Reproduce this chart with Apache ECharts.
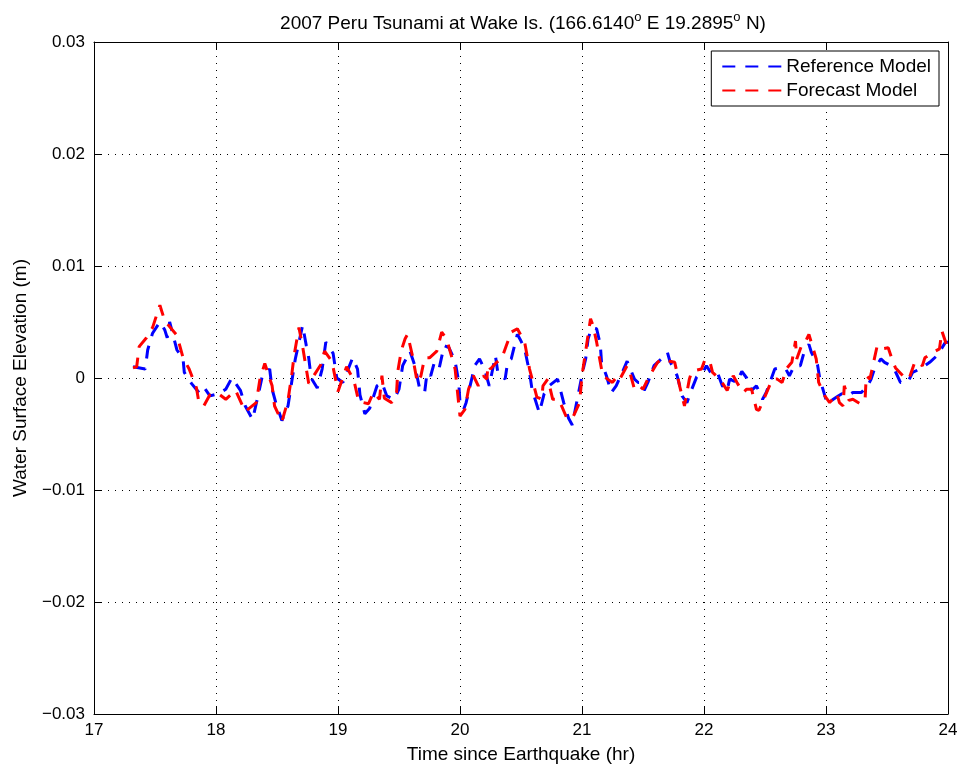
<!DOCTYPE html>
<html>
<head>
<meta charset="utf-8">
<script src="https://cdn.jsdelivr.net/npm/echarts@6/dist/echarts.min.js"></script>
<style>html,body{margin:0;padding:0;background:#fff}#c{width:962px;height:769px}</style>
</head>
<body>
<div id="c"></div>
<script>
const titleText = '2007 Peru Tsunami at Wake Is. (166.6140{sup|o} E 19.2895{sup|o} N)';
const xName = 'Time since Earthquake (hr)';
const yName = 'Water Surface Elevation (m)';
const seriesNames = ['Reference Model', 'Forecast Model'];
const xTicks = [17, 18, 19, 20, 21, 22, 23, 24];
const yTicks = [-0.03, -0.02, -0.01, 0, 0.01, 0.02, 0.03];

const refTime = [17.32,17.42,17.44,17.48,17.54,17.58,17.60,17.62,17.68,17.73,17.74,17.80,17.86,17.90,17.95,18.02,18.08,18.13,18.20,18.24,18.30,18.34,18.38,18.44,18.46,18.49,18.54,18.59,18.62,18.65,18.71,18.74,18.76,18.78,18.83,18.87,18.90,18.96,18.99,19.04,19.12,19.16,19.18,19.22,19.26,19.32,19.36,19.40,19.46,19.50,19.53,19.59,19.63,19.67,19.71,19.73,19.76,19.79,19.83,19.87,19.91,19.96,19.99,20.00,20.03,20.05,20.10,20.12,20.16,20.20,20.24,20.29,20.31,20.37,20.39,20.42,20.47,20.50,20.53,20.57,20.59,20.65,20.69,20.73,20.80,20.85,20.89,20.92,21.01,21.03,21.05,21.08,21.12,21.15,21.16,21.20,21.24,21.28,21.33,21.37,21.43,21.46,21.48,21.51,21.54,21.59,21.65,21.70,21.72,21.78,21.81,21.82,21.86,21.90,21.94,21.99,22.02,22.06,22.11,22.15,22.19,22.21,22.27,22.31,22.35,22.39,22.43,22.48,22.51,22.53,22.58,22.62,22.67,22.70,22.74,22.79,22.82,22.86,22.88,22.93,22.95,23.01,23.06,23.10,23.13,23.18,23.22,23.29,23.34,23.37,23.40,23.45,23.48,23.53,23.56,23.61,23.67,23.71,23.77,23.85,23.91,23.98,24.00];
const refElev = [0.0010,0.0008,0.0025,0.0040,0.0050,0.0043,0.0036,0.0050,0.0025,0.0017,0.0005,-0.0005,-0.0013,-0.0008,-0.0016,-0.0014,-0.0010,0.0000,-0.0011,-0.0025,-0.0037,-0.0018,0.0002,0.0008,-0.0010,-0.0022,-0.0038,-0.0025,-0.0004,0.0017,0.0047,0.0029,0.0018,0.0000,-0.0009,0.0008,0.0032,0.0022,0.0000,-0.0004,0.0018,0.0008,-0.0015,-0.0032,-0.0027,-0.0007,-0.0004,-0.0016,-0.0019,-0.0010,0.0011,0.0024,0.0011,-0.0010,-0.0013,0.0005,0.0002,0.0014,0.0009,0.0029,0.0027,0.0015,-0.0004,-0.0022,-0.0028,-0.0022,0.0001,0.0011,0.0017,0.0008,-0.0007,0.0020,0.0005,-0.0001,0.0014,0.0017,0.0039,0.0033,0.0026,0.0005,-0.0010,-0.0031,-0.0014,-0.0007,-0.0001,-0.0022,-0.0036,-0.0042,0.0008,0.0017,0.0035,0.0045,0.0044,0.0030,0.0014,0.0002,-0.0013,-0.0007,0.0005,0.0015,-0.0001,-0.0004,-0.0004,-0.0011,-0.0004,0.0011,0.0017,0.0023,0.0015,0.0002,-0.0011,-0.0016,-0.0022,-0.0010,0.0001,0.0005,0.0011,0.0004,0.0005,-0.0007,-0.0011,-0.0001,-0.0004,0.0006,0.0000,-0.0011,-0.0007,-0.0019,-0.0013,-0.0007,0.0008,0.0009,0.0008,0.0002,0.0011,0.0011,0.0023,0.0030,0.0023,0.0012,-0.0001,-0.0023,-0.0019,-0.0016,-0.0014,-0.0016,-0.0013,-0.0013,-0.0007,-0.0001,0.0009,0.0017,0.0014,0.0011,0.0008,-0.0004,-0.0004,0.0005,0.0008,0.0014,0.0020,0.0032,0.0032];

const fcTime = [17.32,17.35,17.37,17.43,17.48,17.54,17.58,17.68,17.73,17.78,17.84,17.86,17.90,17.95,18.02,18.08,18.16,18.24,18.33,18.36,18.40,18.46,18.48,18.54,18.59,18.62,18.64,18.68,18.71,18.76,18.86,18.89,18.95,19.00,19.07,19.13,19.17,19.25,19.29,19.34,19.36,19.38,19.44,19.48,19.49,19.52,19.55,19.57,19.61,19.65,19.68,19.71,19.75,19.81,19.85,19.89,19.96,19.98,20.00,20.04,20.07,20.11,20.15,20.19,20.22,20.23,20.25,20.30,20.34,20.38,20.42,20.47,20.53,20.57,20.63,20.67,20.68,20.72,20.76,20.81,20.88,20.93,20.98,21.00,21.03,21.07,21.09,21.12,21.17,21.21,21.25,21.29,21.31,21.37,21.39,21.43,21.47,21.50,21.54,21.57,21.62,21.66,21.72,21.76,21.77,21.80,21.84,21.88,21.90,21.98,22.01,22.05,22.07,22.13,22.19,22.24,22.27,22.32,22.35,22.39,22.43,22.45,22.56,22.60,22.64,22.68,22.72,22.75,22.76,22.80,22.82,22.86,22.92,22.94,22.99,23.03,23.09,23.11,23.14,23.15,23.19,23.22,23.28,23.32,23.33,23.36,23.38,23.42,23.46,23.51,23.55,23.57,23.63,23.68,23.73,23.79,23.81,23.88,23.93,23.95,23.99,24.00];
const fcElev = [0.0009,0.0010,0.0028,0.0036,0.0045,0.0065,0.0051,0.0038,0.0018,0.0008,-0.0009,-0.0022,-0.0025,-0.0015,-0.0014,-0.0019,-0.0011,-0.0030,-0.0022,-0.0001,0.0013,-0.0007,-0.0025,-0.0039,-0.0020,0.0002,0.0020,0.0045,0.0028,-0.0005,0.0012,0.0024,0.0015,-0.0012,0.0010,-0.0002,-0.0021,-0.0023,-0.0013,-0.0019,0.0002,-0.0018,-0.0022,-0.0013,0.0006,0.0025,0.0035,0.0039,0.0020,-0.0004,0.0002,0.0018,0.0018,0.0024,0.0041,0.0035,0.0008,-0.0013,-0.0034,-0.0028,-0.0010,0.0002,-0.0007,0.0002,-0.0001,0.0012,0.0008,0.0014,0.0017,0.0029,0.0041,0.0044,0.0032,0.0008,-0.0017,-0.0019,-0.0007,-0.0001,-0.0019,-0.0019,-0.0037,-0.0034,-0.0022,0.0002,0.0024,0.0053,0.0047,0.0032,0.0002,-0.0001,-0.0004,0.0002,-0.0001,0.0011,0.0006,-0.0010,-0.0007,-0.0010,-0.0001,0.0005,0.0014,0.0017,0.0015,0.0014,0.0009,-0.0007,-0.0025,-0.0001,0.0006,0.0008,0.0017,0.0014,0.0005,-0.0001,-0.0011,0.0002,-0.0004,-0.0013,-0.0010,-0.0010,-0.0028,-0.0029,-0.0001,-0.0001,-0.0004,0.0009,0.0014,0.0033,0.0017,0.0029,0.0030,0.0039,0.0017,-0.0004,-0.0016,-0.0022,-0.0014,-0.0022,-0.0025,-0.0007,-0.0020,-0.0019,-0.0023,-0.0020,0.0002,-0.0001,0.0009,0.0029,0.0026,0.0027,0.0014,0.0009,0.0002,-0.0001,0.0015,0.0011,0.0018,0.0023,0.0026,0.0042,0.0029,0.0030];

const FONT = "'Liberation Sans', Arial, Helvetica, sans-serif";
const pair = (t, v) => t.map((x, i) => [x, v[i]]);
const fmtY = v => {
  const r = Math.round(v * 100) / 100;
  if (r === 0) return '0';
  return r < 0 ? '\u2212' + Math.abs(r).toFixed(2) : r.toFixed(2);
};

const chart = echarts.init(document.getElementById('c'), null, {renderer: 'canvas'});
const axisCommon = {
  axisLine: {show: true, onZero: false, lineStyle: {color: '#000', width: 1}},
  axisTick: {show: true, inside: true, length: 8, lineStyle: {color: '#000'}},
};
chart.setOption({
  animation: false,
  backgroundColor: '#fff',
  textStyle: {fontFamily: FONT},
  title: {
    text: titleText,
    left: 518, top: 6, textAlign: 'center',
    textStyle: {
      fontFamily: FONT, fontSize: 19, fontWeight: 'normal', color: '#000',
      rich: {sup: {fontFamily: FONT, fontSize: 13, verticalAlign: 'top', padding: [0, 0, 12, 0], color: '#000'}}
    }
  },
  legend: {
    data: seriesNames.map(n => ({name: n, itemStyle: {opacity: 0}})),
    orient: 'vertical',
    right: 23, top: 51,
    padding: [6, 8, 6, 10],
    itemGap: 5,
    itemWidth: 59, itemHeight: 14,
    borderColor: '#000', borderWidth: 1,
    backgroundColor: '#fff',
    itemStyle: {opacity: 0},
    textStyle: {fontFamily: FONT, fontSize: 19, color: '#000', padding: [0, 0, 0, 0]}
  },
  grid: {left: 94, right: 14, top: 42, bottom: 54, containLabel: false},
  xAxis: [
    Object.assign({
      type: 'value', min: xTicks[0], max: xTicks[xTicks.length - 1], interval: 1,
      position: 'bottom',
      name: xName, nameLocation: 'middle', nameGap: 31,
      nameTextStyle: {fontFamily: FONT, fontSize: 19, color: '#000'},
      axisLabel: {fontFamily: FONT, fontSize: 17, color: '#000', margin: 8},
      splitLine: {show: true, lineStyle: {color: '#000', type: [1, 6], width: 1}}
    }, axisCommon),
    Object.assign({
      type: 'value', min: xTicks[0], max: xTicks[xTicks.length - 1], interval: 1,
      position: 'top', axisLabel: {show: false}, splitLine: {show: false}
    }, axisCommon)
  ],
  yAxis: [
    Object.assign({
      type: 'value', min: yTicks[0], max: yTicks[yTicks.length - 1], interval: 0.01,
      position: 'left',
      name: yName, nameLocation: 'middle', nameGap: 64, nameRotate: 90,
      nameTextStyle: {fontFamily: FONT, fontSize: 19, color: '#000'},
      axisLabel: {fontFamily: FONT, fontSize: 17, color: '#000', margin: 9, formatter: fmtY},
      splitLine: {show: true, lineStyle: {color: '#000', type: [1, 6], width: 1}}
    }, axisCommon),
    Object.assign({
      type: 'value', min: yTicks[0], max: yTicks[yTicks.length - 1], interval: 0.01,
      position: 'right', axisLabel: {show: false}, splitLine: {show: false}
    }, axisCommon)
  ],
  series: [
    {
      name: seriesNames[0], type: 'line', data: pair(refTime, refElev),
      showSymbol: false, symbol: 'none',
      lineStyle: {color: '#0000ff', width: 3, type: [13, 10]},
      itemStyle: {color: '#0000ff'}
    },
    {
      name: seriesNames[1], type: 'line', data: pair(fcTime, fcElev),
      showSymbol: false, symbol: 'none',
      lineStyle: {color: '#ff0000', width: 3, type: [13, 10]},
      itemStyle: {color: '#ff0000'}
    }
  ]
});
</script>
</body>
</html>
